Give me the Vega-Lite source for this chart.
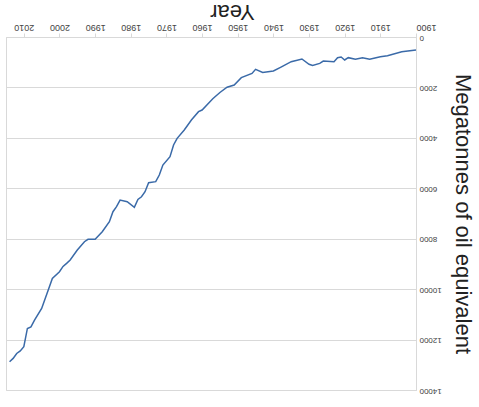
{
  "$schema": "https://vega.github.io/schema/vega-lite/v6.json",
  "autosize": {"type": "none"},
  "padding": {"left": 6, "top": 37, "right": 63, "bottom": 17},
  "width": 410,
  "height": 353,
  "background": "white",
  "config": {
    "view": {"stroke": "#d9d9d9"},
    "font": "Liberation Sans"
  },
  "data": {
    "values": [
      {"year": 1900, "mtoe": 516}, {"year": 1904, "mtoe": 583}, {"year": 1908, "mtoe": 740},
      {"year": 1910, "mtoe": 780}, {"year": 1913, "mtoe": 885}, {"year": 1915, "mtoe": 820},
      {"year": 1917, "mtoe": 885}, {"year": 1919, "mtoe": 820}, {"year": 1920, "mtoe": 912},
      {"year": 1921, "mtoe": 793}, {"year": 1922, "mtoe": 820}, {"year": 1923, "mtoe": 978},
      {"year": 1926, "mtoe": 952}, {"year": 1927, "mtoe": 1045}, {"year": 1929, "mtoe": 1130},
      {"year": 1930, "mtoe": 1080}, {"year": 1932, "mtoe": 873}, {"year": 1935, "mtoe": 978},
      {"year": 1938, "mtoe": 1203}, {"year": 1940, "mtoe": 1350}, {"year": 1943, "mtoe": 1403},
      {"year": 1945, "mtoe": 1283}, {"year": 1946, "mtoe": 1443}, {"year": 1949, "mtoe": 1613},
      {"year": 1951, "mtoe": 1904}, {"year": 1953, "mtoe": 1990}, {"year": 1955, "mtoe": 2200},
      {"year": 1957, "mtoe": 2450}, {"year": 1960, "mtoe": 2896}, {"year": 1961, "mtoe": 2962},
      {"year": 1963, "mtoe": 3292}, {"year": 1965, "mtoe": 3689}, {"year": 1967, "mtoe": 4019},
      {"year": 1968, "mtoe": 4284}, {"year": 1969, "mtoe": 4748}, {"year": 1971, "mtoe": 5077},
      {"year": 1972, "mtoe": 5474}, {"year": 1973, "mtoe": 5738}, {"year": 1975, "mtoe": 5778},
      {"year": 1976, "mtoe": 6137}, {"year": 1977, "mtoe": 6335}, {"year": 1978, "mtoe": 6440},
      {"year": 1979, "mtoe": 6757}, {"year": 1981, "mtoe": 6532}, {"year": 1983, "mtoe": 6466},
      {"year": 1984, "mtoe": 6730}, {"year": 1985, "mtoe": 6929}, {"year": 1986, "mtoe": 7326},
      {"year": 1988, "mtoe": 7723}, {"year": 1990, "mtoe": 8025}, {"year": 1992, "mtoe": 8025},
      {"year": 1993, "mtoe": 8119}, {"year": 1995, "mtoe": 8449}, {"year": 1997, "mtoe": 8846},
      {"year": 1998, "mtoe": 8977}, {"year": 1999, "mtoe": 9100}, {"year": 2000, "mtoe": 9309},
      {"year": 2002, "mtoe": 9573}, {"year": 2003, "mtoe": 9970}, {"year": 2005, "mtoe": 10763},
      {"year": 2007, "mtoe": 11226}, {"year": 2008, "mtoe": 11500}, {"year": 2009, "mtoe": 11560},
      {"year": 2010, "mtoe": 12285}, {"year": 2011, "mtoe": 12450}, {"year": 2012, "mtoe": 12550},
      {"year": 2013, "mtoe": 12747}, {"year": 2014, "mtoe": 12880}
    ]
  },
  "mark": {"type": "line", "color": "#3a6aa8", "strokeWidth": 1.5},
  "encoding": {
    "x": {
      "field": "year", "type": "quantitative",
      "scale": {"domain": [1900, 2015], "reverse": true, "nice": false, "zero": false},
      "axis": {
        "orient": "top",
        "title": "Year",
        "titleAngle": 180,
        "titleFontSize": 22,
        "titleFontWeight": "normal",
        "titleColor": "#222",
        "titleX": 226,
        "titleY": -38,
        "titleBaseline": "bottom",
        "values": [1900, 1910, 1920, 1930, 1940, 1950, 1960, 1970, 1980, 1990, 2000, 2010],
        "format": "d",
        "labelAngle": 180,
        "labelFontSize": 9,
        "labelColor": "#444",
        "grid": false,
        "domainColor": "#d9d9d9",
        "tickColor": "#d9d9d9",
        "tickSize": 4
      }
    },
    "y": {
      "field": "mtoe", "type": "quantitative",
      "scale": {"domain": [0, 14000], "reverse": true, "nice": false},
      "axis": {
        "orient": "right",
        "title": "Megatonnes of oil equivalent",
        "titleAngle": 90,
        "titleFontSize": 22,
        "titleFontWeight": "normal",
        "titleColor": "#222",
        "titlePadding": 9,
        "values": [0, 2000, 4000, 6000, 8000, 10000, 12000, 14000],
        "format": "d",
        "labelAngle": 180,
        "labelFontSize": 8,
        "labelColor": "#444",
        "labelPadding": 3,
        "ticks": false,
        "grid": true,
        "gridColor": "#d9d9d9",
        "domainColor": "#d9d9d9"
      }
    }
  }
}
